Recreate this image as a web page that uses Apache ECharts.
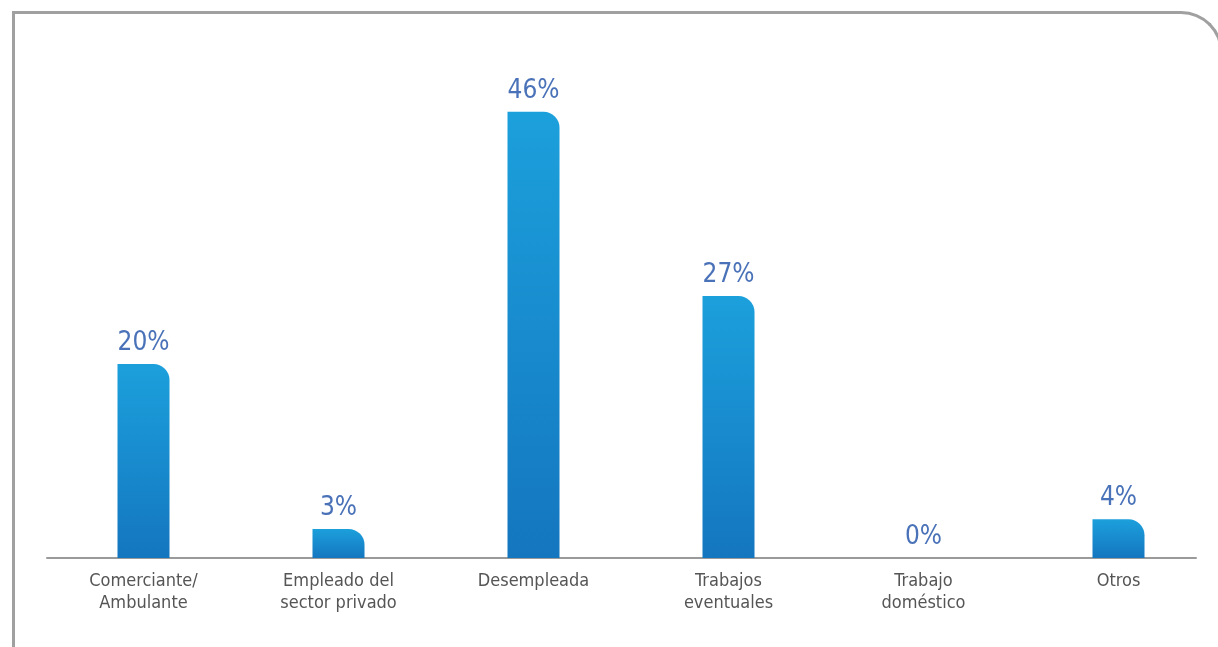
<!DOCTYPE html>
<html>
<head>
<meta charset="utf-8">
<script src="https://cdn.jsdelivr.net/npm/echarts@6/dist/echarts.min.js"></script>
<style>
html,body{margin:0;padding:0;background:#fff;overflow:hidden;}
#frame{position:absolute;left:12px;top:11px;width:1211px;height:700px;border:3px solid #a0a0a0;border-bottom:none;border-top-right-radius:42px;box-sizing:border-box;}
#chart{position:absolute;left:0;top:0;width:1218px;height:647px;}
</style>
</head>
<body>
<div id="frame"></div>
<div id="chart"></div>
<script>
const categories = ['Comerciante/\nAmbulante', 'Empleado del\nsector privado', 'Desempleada', 'Trabajos\neventuales', 'Trabajo\ndoméstico', 'Otros'];
const values = [20, 3, 46, 27, 0, 4];

const FONT = '"DejaVu Sans Condensed", "Roboto", sans-serif';
const chart = echarts.init(document.getElementById('chart'), null, {renderer: 'canvas'});
chart.setOption({
  animation: false,
  grid: [
    {left: 46, right: 2, top: 73, bottom: 89},
    {left: 47, right: 22, top: 73, bottom: 89}
  ],
  xAxis: [{
    type: 'category',
    gridIndex: 0,
    data: categories,
    axisLine: {show: false},
    axisTick: {show: false},
    axisLabel: {color: '#555555', fontSize: 18, fontFamily: FONT, lineHeight: 22, margin: 12, interval: 0}
  }, {
    type: 'category',
    gridIndex: 1,
    data: categories,
    axisLine: {show: true, lineStyle: {color: '#9a9a9a', width: 2}},
    axisTick: {show: false},
    axisLabel: {show: false}
  }],
  yAxis: [{
    type: 'value', min: 0, max: 50, gridIndex: 0,
    show: false,
    splitLine: {show: false}
  }, {
    type: 'value', min: 0, max: 50, gridIndex: 1,
    show: false,
    splitLine: {show: false}
  }],
  series: [{
    type: 'bar',
    data: values,
    barWidth: 52,
    z: 3,
    itemStyle: {
      borderRadius: [0, 16, 0, 0],
      color: new echarts.graphic.LinearGradient(0, 0, 0, 1, [
        {offset: 0, color: '#1ca0dc'},
        {offset: 1, color: '#1476bf'}
      ])
    },
    label: {
      show: true, position: 'top', distance: 8,
      formatter: '{c}%',
      color: '#4a72b8', fontSize: 26, fontFamily: FONT
    }
  }]
});
</script>
</body>
</html>
